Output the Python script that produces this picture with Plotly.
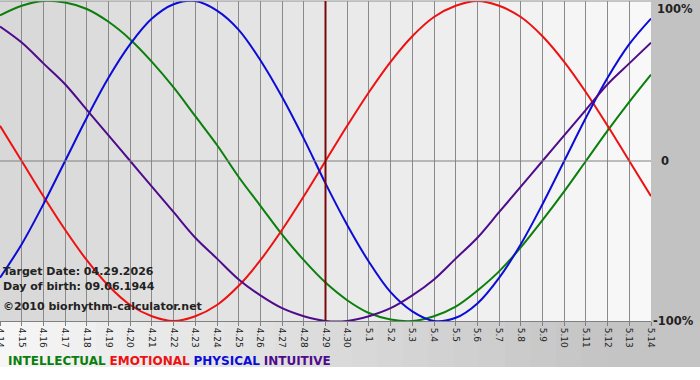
import plotly.graph_objects as go

# ---- data ----
day_labels = ["4.14", "4.15", "4.16", "4.17", "4.18", "4.19", "4.20", "4.21", "4.22", "4.23",
              "4.24", "4.25", "4.26", "4.27", "4.28", "4.29", "4.30", "5.1", "5.2", "5.3",
              "5.4", "5.5", "5.6", "5.7", "5.8", "5.9", "5.10", "5.11", "5.12", "5.13", "5.14"]

intellectual = [0.91, 0.97, 1.00, 0.99, 0.95, 0.87, 0.76, 0.62, 0.46, 0.28,
                0.10, -0.10, -0.28, -0.46, -0.62, -0.76, -0.87, -0.95, -0.99, -1.00,
                -0.97, -0.91, -0.81, -0.69, -0.54, -0.37, -0.19, 0.00, 0.19, 0.37, 0.54]
emotional = [0.22, 0.00, -0.22, -0.43, -0.62, -0.78, -0.90, -0.97, -1.00, -0.97,
             -0.90, -0.78, -0.62, -0.43, -0.22, 0.00, 0.22, 0.43, 0.62, 0.78,
             0.90, 0.97, 1.00, 0.97, 0.90, 0.78, 0.62, 0.43, 0.22, 0.00, -0.22]
physical = [-0.73, -0.52, -0.27, 0.00, 0.27, 0.52, 0.73, 0.89, 0.98, 1.00,
            0.94, 0.82, 0.63, 0.40, 0.14, -0.14, -0.40, -0.63, -0.82, -0.94,
            -1.00, -0.98, -0.89, -0.73, -0.52, -0.27, 0.00, 0.27, 0.52, 0.73, 0.89]
intuitive = [0.84, 0.74, 0.61, 0.48, 0.32, 0.16, 0.00, -0.16, -0.32, -0.48,
             -0.61, -0.74, -0.84, -0.92, -0.97, -1.00, -1.00, -0.97, -0.92, -0.84,
             -0.74, -0.61, -0.48, -0.32, -0.16, 0.00, 0.16, 0.32, 0.48, 0.61, 0.74]

series_names = ["INTELLECTUAL", "EMOTIONAL", "PHYSICAL", "INTUITIVE"]
series_colors = ["#0b7f0b", "#ee1111", "#0c0cd8", "#4e0c8c"]
target_label = "4.29"
target_date = "04.29.2026"
birth_date = "09.06.1944"
y_tick_text = ["100%", "0", "-100%"]

# ---- figure ----
x = list(range(len(day_labels)))
fig = go.Figure()
for name, vals, col in zip(series_names, [intellectual, emotional, physical, intuitive], series_colors):
    fig.add_trace(go.Scatter(x=x, y=vals, mode="lines", name=name,
                             line=dict(color=col, width=2, shape="spline", smoothing=1.0),
                             showlegend=False, hoverinfo="skip"))

shapes = []
n = len(day_labels) - 1
# plot background bands (dark left -> light right)
for i in range(n):
    t = i / (n - 1)
    g = int(round(0xd8 + (0xf8 - 0xd8) * t))
    shapes.append(dict(type="rect", xref="x", yref="y", x0=i, x1=i + 1, y0=-1, y1=1,
                       fillcolor=f"rgb({g},{g},{g})", line=dict(width=0), layer="below"))
# right strip
shapes.append(dict(type="rect", xref="paper", yref="paper", x0=1, x1=1.1, y0=-0.144, y1=1.01,
                   fillcolor="#c2c2c2", line=dict(width=0), layer="below"))
# bottom band gradient
steps = 28
for i in range(steps):
    t = i / (steps - 1)
    g = int(round(0xf6 + (0xc4 - 0xf6) * min(1, t * 1.15)))
    x0 = -0.01 + i * (1.1 / steps)
    shapes.append(dict(type="rect", xref="paper", yref="paper", x0=x0, x1=x0 + 1.1 / steps + 0.002,
                       y0=-0.144, y1=0, fillcolor=f"rgb({g},{g},{g})", line=dict(width=0),
                       layer="below"))
# zero line and border lines
shapes.append(dict(type="line", xref="paper", yref="y", x0=0, x1=1, y0=0, y1=0,
                   line=dict(color="#808080", width=1)))
shapes.append(dict(type="line", xref="paper", yref="paper", x0=0, x1=1, y0=1, y1=1,
                   line=dict(color="#909090", width=1)))
# target date line
ti = day_labels.index(target_label)
shapes.append(dict(type="line", xref="x", yref="y", x0=ti, x1=ti, y0=-1, y1=1,
                   line=dict(color="#7a0a0a", width=2)))

annotations = []
info_font = dict(family="DejaVu Sans", size=11, color="#222222")
annotations.append(dict(text=f"<b>Target Date: {target_date}</b>", xref="paper", yref="paper",
                        x=0, y=(321 - 271) / 320, xanchor="left", yanchor="middle",
                        xshift=1, showarrow=False, font=info_font))
annotations.append(dict(text=f"<b>Day of birth: {birth_date}</b>", xref="paper", yref="paper",
                        x=0, y=(321 - 286) / 320, xanchor="left", yanchor="middle",
                        xshift=1, showarrow=False, font=info_font))
annotations.append(dict(text="<b>©2010 biorhythm-calculator.net</b>", xref="paper", yref="paper",
                        x=0, y=(321 - 306) / 320, xanchor="left", yanchor="middle",
                        xshift=1, showarrow=False, font=info_font))
# right side percentage labels
lab_font = dict(family="DejaVu Sans", size=11.5, color="#222222")
annotations.append(dict(text=f"<b>{y_tick_text[0]}</b>", xref="paper", yref="y", x=1, y=1,
                        xanchor="left", yanchor="top", xshift=4, yshift=1, showarrow=False, font=lab_font))
annotations.append(dict(text=f"<b>{y_tick_text[1]}</b>", xref="paper", yref="y", x=1, y=0,
                        xanchor="left", yanchor="middle", xshift=8, showarrow=False, font=lab_font))
annotations.append(dict(text=f"<b>{y_tick_text[2]}</b>", xref="paper", yref="y", x=1, y=-1,
                        xanchor="left", yanchor="middle", xshift=0, showarrow=False, font=lab_font))
# legend text
legend_html = " ".join(f"<span style='color:{c}'><b>{nm}</b></span>"
                       for nm, c in zip(series_names, series_colors))
annotations.append(dict(text=legend_html, xref="paper", yref="paper", x=0, y=(321 - 361) / 320,
                        xanchor="left", yanchor="middle", xshift=6, showarrow=False,
                        font=dict(family="DejaVu Sans", size=12)))

fig.update_layout(
    width=700, height=380,
    margin=dict(l=0, r=49, t=1, b=59, pad=0),
    paper_bgcolor="white", plot_bgcolor="#e4e4e4",
    shapes=shapes, annotations=annotations,
    xaxis=dict(range=[0, n], tickmode="array", tickvals=x, ticktext=day_labels,
               tickangle=90, ticks="outside", ticklen=4, tickcolor="#808080",
               tickfont=dict(family="DejaVu Sans", size=9, color="#222222"),
               ticklabeloverflow="allow",
               showgrid=True, gridcolor="#8a8a8a", gridwidth=1,
               showline=True, linecolor="#808080", linewidth=1,
               zeroline=False, fixedrange=True, automargin=False),
    yaxis=dict(range=[-1, 1], showticklabels=False, showgrid=False, zeroline=False,
               ticks="", fixedrange=True, automargin=False),
)

fig.write_html("out.html", config={"displayModeBar": False},
               post_script="document.body.style.margin='0';document.body.style.overflow='hidden';")
